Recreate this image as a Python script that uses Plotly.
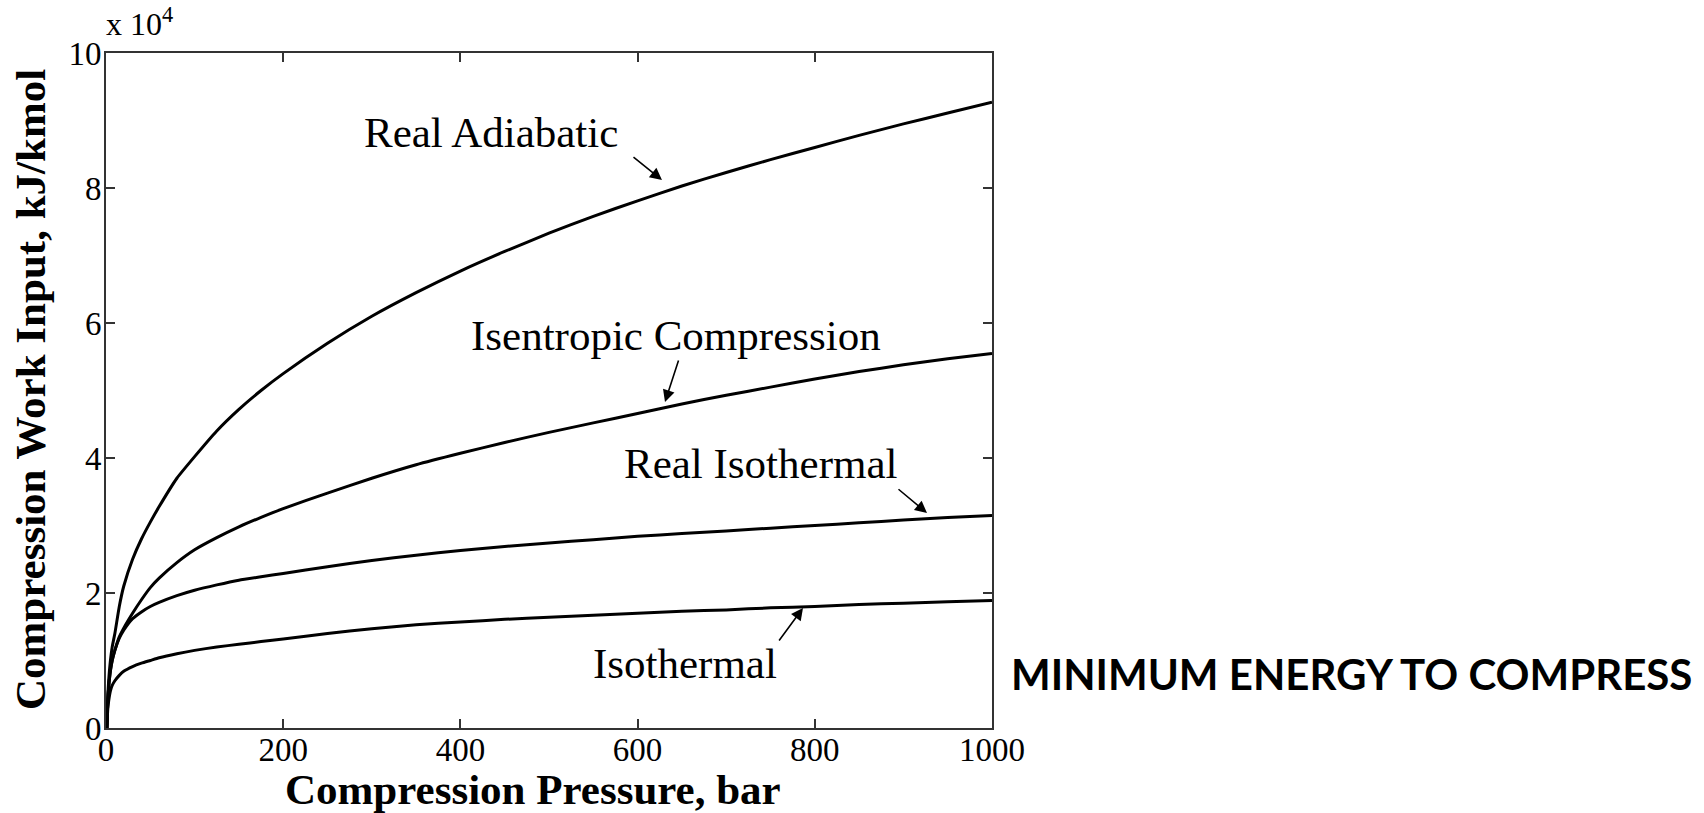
import plotly.graph_objects as go

# Compression pressure (bar)
pressure = [1, 2, 3, 5, 7, 10, 15, 20, 30, 40, 50, 60, 80, 100, 125, 150, 175, 200,
            250, 300, 350, 400, 450, 500, 550, 600, 650, 700, 750, 800, 850, 900, 950, 1000]

# Compression work input (x 10^4 kJ/kmol)
real_adiabatic = [0.0, 0.45, 0.7, 1.0, 1.2, 1.4, 1.8, 2.1, 2.5, 2.8, 3.05, 3.28, 3.7, 4.02, 4.4, 4.72, 5.0, 5.25,
                  5.7, 6.1, 6.45, 6.77, 7.06, 7.33, 7.58, 7.81, 8.03, 8.23, 8.42, 8.6, 8.78, 8.95, 9.11, 9.27]
isentropic = [0.0, 0.4, 0.6, 0.85, 1.0, 1.15, 1.35, 1.48, 1.7, 1.9, 2.08, 2.22, 2.45, 2.64, 2.82, 2.98, 3.12, 3.25,
              3.48, 3.7, 3.9, 4.07, 4.23, 4.38, 4.52, 4.66, 4.8, 4.93, 5.05, 5.17, 5.28, 5.38, 5.47, 5.55]
real_isothermal = [0.0, 0.4, 0.6, 0.85, 1.0, 1.15, 1.33, 1.45, 1.62, 1.72, 1.8, 1.86, 1.96, 2.04, 2.12, 2.19, 2.24, 2.29,
                   2.39, 2.48, 2.56, 2.63, 2.69, 2.74, 2.79, 2.84, 2.88, 2.92, 2.96, 3.0, 3.04, 3.08, 3.12, 3.15]
isothermal = [0.0, 0.28, 0.4, 0.55, 0.63, 0.7, 0.78, 0.84, 0.91, 0.96, 1.0, 1.04, 1.1, 1.15, 1.2, 1.24, 1.28, 1.32,
              1.4, 1.47, 1.53, 1.57, 1.61, 1.64, 1.67, 1.7, 1.73, 1.75, 1.78, 1.8, 1.83, 1.85, 1.87, 1.89]

series = [
    ("Real Adiabatic", real_adiabatic),
    ("Isentropic Compression", isentropic),
    ("Real Isothermal", real_isothermal),
    ("Isothermal", isothermal),
]

x_ticks = [0, 200, 400, 600, 800, 1000]
y_ticks = [0, 2, 4, 6, 8, 10]
scale = 1e4

W, H = 1704, 813
L, R, T, B = 106, 992, 53, 728

def px_to_paper(px, py):
    return (px - L) / (R - L), (B - py) / (B - T)

fig = go.Figure()
for name, vals in series:
    fig.add_trace(go.Scatter(
        x=pressure, y=[v * scale for v in vals], mode="lines", name=name,
        line=dict(color="black", width=3, shape="spline", smoothing=0.5),
        showlegend=False, hoverinfo="skip"))

serif = "Liberation Serif, Times New Roman, serif"
annos = []

# curve labels (text, center pixel)
labels = [
    ("Real Adiabatic", 491, 132),
    ("Isentropic Compression", 676, 335),
    ("Real Isothermal", 760, 463),
    ("Isothermal", 685, 663),
]
for txt, cx, cy in labels:
    xp, yp = px_to_paper(cx, cy)
    annos.append(dict(text=txt, x=xp, y=yp, xref="paper", yref="paper",
                      showarrow=False, xanchor="center", yanchor="middle",
                      font=dict(family=serif, size=43, color="black")))

# arrows (tail px -> head px)
arrows = [
    ((632, 156), (662, 180)),
    ((679, 359), (665, 402)),
    ((897, 488), (927, 513)),
    ((778, 642), (803, 608)),
]
for (tx, ty), (hx, hy) in arrows:
    hxp, hyp = px_to_paper(hx, hy)
    annos.append(dict(text="", x=hxp, y=hyp, ax=tx - hx, ay=ty - hy,
                      xref="paper", yref="paper", axref="pixel", ayref="pixel",
                      showarrow=True, arrowhead=2, arrowsize=1.5, arrowwidth=1.6,
                      arrowcolor="black"))

# exponent label
xp, yp = px_to_paper(104, 22)
annos.append(dict(text="x 10<sup>4</sup>", x=xp, y=yp, xref="paper", yref="paper",
                  showarrow=False, xanchor="left", yanchor="middle",
                  font=dict(family=serif, size=32, color="black")))

# axis titles
xp, yp = px_to_paper(533, 789)
annos.append(dict(text="<b>Compression Pressure, bar</b>", x=xp, y=yp,
                  xref="paper", yref="paper", showarrow=False,
                  xanchor="center", yanchor="middle",
                  font=dict(family=serif, size=43, color="black")))
xp, yp = px_to_paper(30, 390)
annos.append(dict(text="<b>Compression Work Input, kJ/kmol</b>", x=xp, y=yp,
                  xref="paper", yref="paper", showarrow=False, textangle=-90,
                  xanchor="center", yanchor="middle",
                  font=dict(family=serif, size=43, color="black")))

# side caption
xp, yp = px_to_paper(1351, 674)
annos.append(dict(text="<b>MINIMUM ENERGY TO COMPRESS</b>", x=xp, y=yp,
                  xref="paper", yref="paper", showarrow=False,
                  xanchor="center", yanchor="middle",
                  font=dict(family="Lato, Open Sans, sans-serif", size=42, color="black")))

axis_common = dict(showline=True, linecolor="#333", linewidth=2, mirror="allticks",
                   ticks="inside", ticklen=9, tickwidth=1.5, tickcolor="#333",
                   showgrid=False, zeroline=False,
                   tickfont=dict(family=serif, size=33, color="black"))

fig.update_layout(
    width=W, height=H,
    margin=dict(l=L, r=W - R, t=T, b=H - B, pad=0),
    paper_bgcolor="white", plot_bgcolor="white",
    xaxis=dict(range=[0, 1000], tickvals=x_ticks, ticktext=[str(v) for v in x_ticks],
               ticklabelstandoff=-9, **axis_common),
    yaxis=dict(range=[0, 10 * scale], tickvals=[v * scale for v in y_ticks],
               ticktext=[str(v) for v in y_ticks], ticklabelstandoff=-4, **axis_common),
    annotations=annos,
)

fig.write_html("out.html", config={"displayModeBar": False},
               post_script="document.body.style.margin='0';document.body.style.overflow='hidden';")
